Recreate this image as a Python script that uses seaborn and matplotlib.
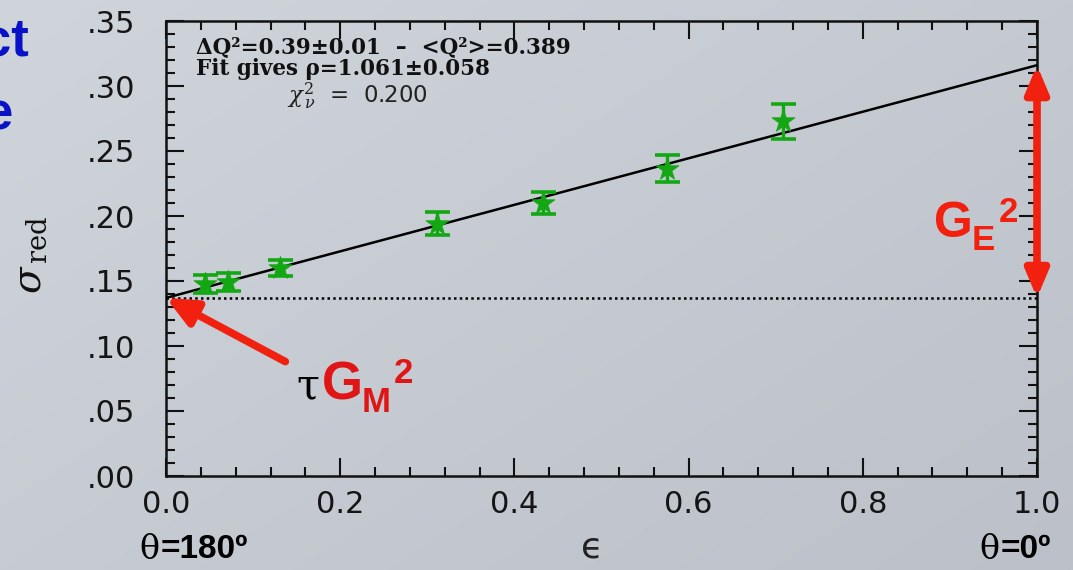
import numpy as np
import pandas as pd
import matplotlib
matplotlib.use("Agg")
import matplotlib.pyplot as plt
import seaborn as sns

# Reduced cross section versus virtual-photon polarisation
epsilon = [0.045, 0.071, 0.131, 0.311, 0.433, 0.575, 0.708]
sigma_red = [0.1477, 0.149, 0.160, 0.194, 0.210, 0.2365, 0.2727]
sigma_err = [0.007, 0.007, 0.0065, 0.0088, 0.0085, 0.0104, 0.0135]

# Linear Rosenbluth fit: sigma_red = tau*G_M^2 + epsilon*G_E^2
fit_intercept = 0.137
fit_slope = 0.179
fit_eps = [0.0, 1.0]

x_ticks = [0.0, 0.2, 0.4, 0.6, 0.8, 1.0]
x_tick_labels = ["0.0", "0.2", "0.4", "0.6", "0.8", "1.0"]
y_ticks = [0.00, 0.05, 0.10, 0.15, 0.20, 0.25, 0.30, 0.35]
y_tick_labels = [".00", ".05", ".10", ".15", ".20", ".25", ".30", ".35"]

fit_lines = [
    "ΔQ²=0.39±0.01  –  <Q²>=0.389",
    "Fit gives ρ=1.061±0.058",
]
chi_text = r"$\chi^2_{\,\nu}$  =  0.200"

GREEN = "#13a813"
RED = "#f2200f"
BLUE = "#0a12c8"
BG = "#c6cad1"

sns.set_theme(style="ticks")
plt.rcParams["font.family"] = ["DejaVu Sans"]
plt.rcParams["mathtext.fontset"] = "dejavuserif"

fig = plt.figure(figsize=(10.73, 5.70), dpi=100)
fig.patch.set_facecolor(BG)

# soft slide background shading
bg_ax = fig.add_axes([0, 0, 1, 1], zorder=-10)
gy, gx = np.mgrid[0:1:200j, 0:1:200j]
shade = 0.55 * gx + 0.45 * gy
bg_ax.imshow(shade, cmap=matplotlib.colors.LinearSegmentedColormap.from_list(
    "bg", ["#d0d4db", "#bcc0c8"]), aspect="auto", extent=[0, 1, 0, 1])
bg_ax.axis("off")

W, H = 1073, 570
ax = fig.add_axes([166 / W, 1 - 476 / H, (1037 - 166) / W, (476 - 21) / H])
ax.set_facecolor("none")

df = pd.DataFrame({"eps": epsilon, "sig": sigma_red, "err": sigma_err})
fit_df = pd.DataFrame({"eps": fit_eps,
                       "sig": [fit_intercept + fit_slope * e for e in fit_eps]})

sns.lineplot(data=fit_df, x="eps", y="sig", color="black", lw=1.8, ax=ax, zorder=3)
ax.axhline(fit_intercept, color="black", lw=1.8, ls=(0, (1, 1.3)), zorder=3)
ax.errorbar(df["eps"], df["sig"], yerr=df["err"], fmt="none", ecolor=GREEN,
            elinewidth=2.4, capsize=9, capthick=2.6, zorder=4)
sns.scatterplot(data=df, x="eps", y="sig", marker="*", s=300, color=GREEN,
                edgecolor=GREEN, linewidth=0.6, ax=ax, zorder=5)

ax.set_xlim(0, 1)
ax.set_ylim(0, 0.35)
ax.set_xticks(x_ticks)
ax.set_xticklabels(x_tick_labels)
ax.set_yticks(y_ticks)
ax.set_yticklabels(y_tick_labels)
ax.xaxis.set_minor_locator(matplotlib.ticker.MultipleLocator(0.04))
ax.yaxis.set_minor_locator(matplotlib.ticker.MultipleLocator(0.01))
ax.tick_params(which="both", direction="in", top=True, right=True,
               color="#111111", width=1.5)
ax.tick_params(which="major", length=13)
ax.tick_params(which="minor", length=6.5)
ax.tick_params(axis="x", which="major", labelsize=22, pad=10, labelcolor="#151515")
ax.tick_params(axis="y", which="major", labelsize=22, pad=22, labelcolor="#151515")
for s in ax.spines.values():
    s.set_linewidth(1.8)
    s.set_color("#111111")
ax.set_xlabel("")
ax.set_ylabel("")

# fit summary
fig.text(196 / W, 1 - 53 / H, fit_lines[0], fontsize=15.5, fontweight="bold",
         family="DejaVu Serif", va="baseline", ha="left", color="#111111")
fig.text(196 / W, 1 - 75 / H, fit_lines[1], fontsize=15.5, fontweight="bold",
         family="DejaVu Serif", va="baseline", ha="left", color="#111111")
fig.text(287 / W, 1 - 103 / H, chi_text, fontsize=16.5,
         va="baseline", ha="left", color="#222222")

# axis titles
fig.text(30 / W, 1 - 255 / H, r"$\sigma_{\,\mathrm{red}}$", rotation=90,
         fontsize=28, ha="center", va="center", color="#111111")
fig.text(592 / W, 1 - 547 / H, "ϵ", fontsize=26, ha="center",
         va="center", color="#222222")

# angle markers below the axis
fig.text(139 / W, 1 - 550 / H, "θ", family="DejaVu Serif", fontsize=24,
         ha="left", va="center", color="black")
fig.text(161 / W, 1 - 550 / H, "=180º", family="Liberation Sans", fontweight="bold",
         fontsize=24, ha="left", va="center", color="black")
fig.text(979 / W, 1 - 550 / H, "θ", family="DejaVu Serif", fontsize=24,
         ha="left", va="center", color="black")
fig.text(1001 / W, 1 - 550 / H, "=0º", family="Liberation Sans", fontweight="bold",
         fontsize=24, ha="left", va="center", color="black")

# G_E^2 arrow along epsilon = 1
ax.annotate("", xy=(1.0, fit_intercept + fit_slope), xytext=(1.0, fit_intercept),
            xycoords="data", textcoords="data", annotation_clip=False,
            arrowprops=dict(arrowstyle="<|-|>,head_length=0.9,head_width=0.38",
                            color=RED, lw=5.5, mutation_scale=18,
                            shrinkA=0, shrinkB=0), zorder=6)
fig.text(934 / W, 1 - 237 / H, "G", family="Liberation Sans", fontweight="bold",
         fontsize=36, color=RED, ha="left", va="baseline")
fig.text(972 / W, 1 - 250 / H, "E", family="Liberation Sans", fontweight="bold",
         fontsize=25, color=RED, ha="left", va="baseline")
fig.text(999 / W, 1 - 222 / H, "2", family="Liberation Sans", fontweight="bold",
         fontsize=25, color=RED, ha="left", va="baseline")

# tau G_M^2 arrow to the intercept
ax.annotate("", xy=(0.0, fit_intercept), xytext=(0.137, 0.088),
            xycoords="data", textcoords="data", annotation_clip=False,
            arrowprops=dict(arrowstyle="-|>,head_length=1.0,head_width=0.45",
                            color=RED, lw=5.5, mutation_scale=18,
                            shrinkA=0, shrinkB=0), zorder=6)
fig.text(296 / W, 1 - 398 / H, "τ", family="DejaVu Serif", fontsize=30,
         color="black", ha="left", va="baseline")
fig.text(322 / W, 1 - 400 / H, "G", family="Liberation Sans", fontweight="bold",
         fontsize=38, color="#e01515", ha="left", va="baseline")
fig.text(362 / W, 1 - 412 / H, "M", family="Liberation Sans", fontweight="bold",
         fontsize=25, color="#e01515", ha="left", va="baseline")
fig.text(394 / W, 1 - 383 / H, "2", family="Liberation Sans", fontweight="bold",
         fontsize=25, color="#e01515", ha="left", va="baseline")

# slide text running in from the left edge
fig.text(29 / W, 1 - 55 / H, "ct", family="Liberation Sans", fontweight="bold",
         fontsize=38, color=BLUE, ha="right", va="baseline")
fig.text(13 / W, 1 - 130 / H, "e", family="Liberation Sans", fontweight="bold",
         fontsize=38, color=BLUE, ha="right", va="baseline")

fig.savefig("out.png", dpi=100, facecolor=fig.get_facecolor())
